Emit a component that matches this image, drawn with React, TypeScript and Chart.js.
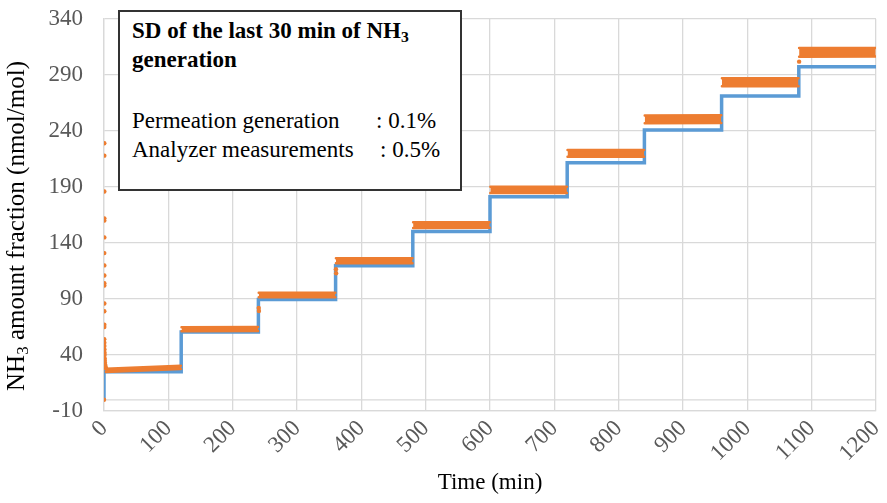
import React, { useEffect, useRef } from "react";
import { Chart, registerables } from "chart.js";

Chart.register(...registerables);

// ---- data ----
const stepStarts = [0, 120, 240, 360, 480, 600, 720, 840, 960, 1080];
const runEnd = 1200;
const blueInitial = 0;
const blueLevels = [25, 60.5, 89.5, 119.7, 150.2, 181.2, 211.6, 241, 271.3, 297.4];
const orangeStartLevels = [26.3, 63, 93.6, 124.2, 156, 187.4, 220, 250.4, 283.5, 310.2];
const orangeEndLevels = [29, 63.2, 93.6, 124.2, 156.1, 187.4, 220, 250.6, 283.5, 310.4];
const orangeSpread = [1.4, 1.8, 2.0, 2.2, 2.5, 2.8, 3.1, 3.4, 3.6, 3.8];
const orangeDotTimes = [0, 0.5, 0.5, 0.5, 0.5, 0.5, 0.5, 0.5, 0.5, 0.5, 0.5, 0.5, 0.5, 0.5, 0.5, 0.5,
  0.4, 0.5, 0.6, 0.7, 0.8, 0.9, 1.0, 1.2, 1.5, 2, 2.6, 3.2,
  240.5, 240.8, 360.5, 360.8, 1080.5];
const orangeDotValues = [0, 229, 218, 186, 162, 160, 145, 131, 120, 111, 104, 102, 86, 79, 67, 65,
  54, 51, 48, 45, 42, 40, 37, 35, 33, 31, 29, 28,
  81.9, 79.3, 116.5, 113, 301.9];
const xTicks = [0, 100, 200, 300, 400, 500, 600, 700, 800, 900, 1000, 1100, 1200];
const yTicks = [-10, 40, 90, 140, 190, 240, 290, 340];

const FONT = "'Liberation Serif', 'Times New Roman', serif";
const BLUE = "#5B9BD5";
const ORANGE = "#ED7D31";
const GRID = "#d9d9d9";

const zeroLine = {
  id: "zeroLine",
  beforeDatasetsDraw(chart: any) {
    const { ctx, chartArea } = chart;
    const y = chart.scales.y.getPixelForValue(0);
    ctx.save();
    ctx.strokeStyle = GRID;
    ctx.lineWidth = 1.3;
    ctx.beginPath();
    ctx.moveTo(chartArea.left, y);
    ctx.lineTo(chartArea.right, y);
    ctx.stroke();
    ctx.restore();
  },
};

const yTitle = {
  id: "yTitle",
  afterDraw(chart: any) {
    const { ctx, chartArea } = chart;
    const big = `25px ${FONT}`;
    const small = `17px ${FONT}`;
    const t1 = "NH";
    const t2 = "3";
    const t3 = " amount fraction (nmol/mol)";
    ctx.save();
    ctx.translate(17.5, (chartArea.top + chartArea.bottom) / 2 + 11);
    ctx.rotate(-Math.PI / 2);
    ctx.font = big;
    const w1 = ctx.measureText(t1).width;
    const w3 = ctx.measureText(t3).width;
    ctx.font = small;
    const w2 = ctx.measureText(t2).width;
    let x = -(w1 + w2 + w3) / 2;
    ctx.textBaseline = "middle";
    ctx.textAlign = "left";
    ctx.fillStyle = "#000";
    ctx.font = big;
    ctx.fillText(t1, x, 0);
    x += w1;
    ctx.font = small;
    ctx.fillText(t2, x, 6);
    x += w2;
    ctx.font = big;
    ctx.fillText(t3, x, 0);
    ctx.restore();
  },
};

export default function App() {
  const ref = useRef<HTMLCanvasElement>(null);

  useEffect(() => {
    document.body.style.margin = "0";
    if (!ref.current) return;

    const blueData: { x: number; y: number }[] = [{ x: 0, y: blueInitial }];
    const lo: { x: number; y: number | null }[] = [];
    const hi: { x: number; y: number | null }[] = [];
    stepStarts.forEach((s, i) => {
      const e = i < stepStarts.length - 1 ? stepStarts[i + 1] : runEnd;
      blueData.push({ x: s, y: blueLevels[i] }, { x: e, y: blueLevels[i] });
      const s0 = i === 0 ? 3 : s + 0.5;
      lo.push(
        { x: s0, y: orangeStartLevels[i] - orangeSpread[i] },
        { x: e - 0.5, y: orangeEndLevels[i] - orangeSpread[i] },
        { x: e, y: null }
      );
      hi.push(
        { x: s0, y: orangeStartLevels[i] + orangeSpread[i] },
        { x: e - 0.5, y: orangeEndLevels[i] + orangeSpread[i] },
        { x: e, y: null }
      );
    });
    const dots = orangeDotTimes.map((t, i) => ({ x: t, y: orangeDotValues[i] }));

    const chart = new Chart(ref.current, {
      type: "line",
      data: {
        datasets: [
          {
            label: "Analyzer low",
            data: lo as any,
            borderColor: ORANGE,
            borderWidth: 2.5,
            borderCapStyle: "round",
            pointRadius: 0,
            spanGaps: false,
            fill: false,
          },
          {
            label: "Analyzer high",
            data: hi as any,
            borderColor: ORANGE,
            backgroundColor: ORANGE,
            borderWidth: 2.5,
            borderCapStyle: "round",
            pointRadius: 0,
            spanGaps: false,
            fill: "-1",
          },
          {
            label: "Analyzer dots",
            data: dots,
            showLine: false,
            pointRadius: 2.2,
            pointBorderWidth: 0,
            pointBackgroundColor: ORANGE,
            borderColor: ORANGE,
          },
          {
            label: "Permeation generation",
            data: blueData,
            borderColor: BLUE,
            borderWidth: 3.5,
            pointRadius: 0,
            fill: false,
          },
        ],
      },
      options: {
        animation: false,
        responsive: false,
        layout: { padding: { left: 0, right: 11, top: 19, bottom: 0 } },
        plugins: { legend: { display: false }, tooltip: { enabled: false } },
        scales: {
          x: {
            type: "linear",
            min: 0,
            max: 1200,
            afterBuildTicks: (s: any) => {
              s.ticks = xTicks.map((v) => ({ value: v }));
            },
            afterFit: (s: any) => {
              s.height = 92;
              s.paddingLeft = 0;
              s.paddingRight = 0;
            },
            ticks: {
              autoSkip: false,
              minRotation: 45,
              maxRotation: 45,
              padding: 4,
              color: "#595959",
              font: { family: FONT, size: 23 },
              callback: (v: any) => String(v),
            },
            grid: { color: GRID, lineWidth: 1.3, drawTicks: false },
            border: { color: GRID, width: 1.3 },
            title: {
              display: true,
              text: "Time (min)",
              color: "#000",
              font: { family: FONT, size: 23 },
              padding: { top: 0, bottom: 6 },
            },
          },
          y: {
            type: "linear",
            min: -10,
            max: 340,
            afterBuildTicks: (s: any) => {
              s.ticks = yTicks.map((v) => ({ value: v }));
            },
            afterFit: (s: any) => {
              s.width = 104;
              s.paddingTop = 0;
              s.paddingBottom = 0;
            },
            ticks: {
              padding: 21,
              color: "#595959",
              font: { family: FONT, size: 23 },
              callback: (v: any) => String(v),
            },
            grid: { color: GRID, lineWidth: 1.3, drawTicks: false },
            border: { color: GRID, width: 1.3 },
          },
        },
      },
      plugins: [zeroLine, yTitle],
    });
    return () => chart.destroy();
  }, []);

  const line: React.CSSProperties = { fontSize: 23, lineHeight: "29px", whiteSpace: "pre" };
  const sub: React.CSSProperties = { fontSize: "0.68em", verticalAlign: "-0.28em", lineHeight: 0 };

  return (
    <div style={{ position: "relative", width: 887, height: 503, fontFamily: FONT }}>
      <canvas ref={ref} width={887} height={503} style={{ display: "block" }} />
      <div
        style={{
          position: "absolute",
          left: 118,
          top: 10,
          width: 344,
          height: 181,
          boxSizing: "border-box",
          border: "2px solid #333",
          background: "#fff",
          padding: "4px 0 0 12px",
          color: "#000",
        }}
      >
        <div style={{ ...line, fontWeight: "bold" }}>
          SD of the last 30 min of NH<span style={sub}>3</span>
        </div>
        <div style={{ ...line, fontWeight: "bold" }}>generation</div>
        <div style={{ height: 32 }} />
        <div style={line}>
          <span style={{ display: "inline-block", width: 244 }}>Permeation generation</span>: 0.1%
        </div>
        <div style={line}>
          <span style={{ display: "inline-block", width: 248 }}>Analyzer measurements</span>: 0.5%
        </div>
      </div>
    </div>
  );
}
